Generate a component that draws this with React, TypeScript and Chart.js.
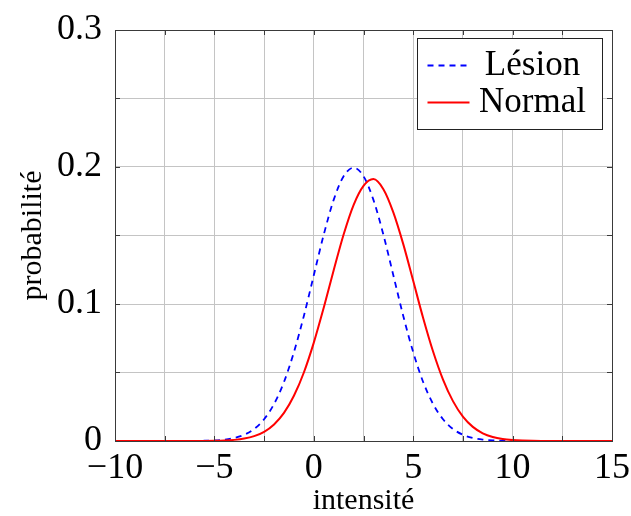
import React, { useEffect, useRef } from "react";
import { Chart, registerables } from "chart.js";

Chart.register(...registerables);

const xValues = [
  -10, -9.5, -9, -8.5, -8, -7.5, -7, -6.5, -6, -5.5, -5, -4.5, -4, -3.5, -3, -2.5, -2,
  -1.5, -1, -0.5, 0, 0.5, 1, 1.5, 2, 2.5, 3, 3.5, 4, 4.5, 5, 5.5, 6, 6.5, 7, 7.5, 8,
  8.5, 9, 9.5, 10, 10.5, 11, 11.5, 12, 12.5, 13, 13.5, 14, 14.5, 15,
];

const lesion = [
  0, 0, 0, 0, 0, 0, 0, 0, 0.00007, 0.00018, 0.00044, 0.00101, 0.00222, 0.00455, 0.00876,
  0.0159, 0.027, 0.0431, 0.0648, 0.0913, 0.121, 0.1506, 0.176, 0.1933, 0.1995, 0.1933,
  0.176, 0.1506, 0.121, 0.0913, 0.0648, 0.0431, 0.027, 0.0159, 0.00876, 0.00455, 0.00222,
  0.00101, 0.00044, 0.00018, 0.00007, 0, 0, 0, 0, 0, 0, 0, 0, 0, 0,
];

const normal = [
  0, 0, 0, 0, 0, 0, 0, 0, 0.00002, 0.00006, 0.00015, 0.00036, 0.00082, 0.00175, 0.00353,
  0.00671, 0.0121, 0.0205, 0.033, 0.05, 0.0718, 0.0973, 0.1246, 0.1507, 0.1722, 0.1862,
  0.1912, 0.1838, 0.1669, 0.1437, 0.1169, 0.0898, 0.0653, 0.0448, 0.0291, 0.0178, 0.0103,
  0.00564, 0.00292, 0.00142, 0.00066, 0.00029, 0.00012, 0.00005, 0, 0, 0, 0, 0, 0, 0,
];

const xLabeledTicks = [-10, -5, 0, 5, 10, 15];
const yLabeledTicks = [0, 0.1, 0.2, 0.3];

const seriesNames = ["Lésion", "Normal"];
const xTitle = "intensité";
const yTitle = "probabilité";

const FONT = "'Liberation Serif', 'Times New Roman', serif";

const fmtNum = (v: number) => {
  const r = Math.round(v * 1000) / 1000;
  return String(r).replace("-", "\u2212");
};

const zeroPadding = (scale: any) => {
  scale.paddingTop = 0;
  scale.paddingBottom = 0;
  scale.paddingLeft = 0;
  scale.paddingRight = 0;
};

const framePlugin = {
  id: "frame",
  afterDatasetsDraw(chart: any) {
    const { ctx, chartArea } = chart;
    const { left, right, top, bottom } = chartArea;
    const xs = chart.scales.x;
    const ys = chart.scales.y;
    ctx.save();
    ctx.strokeStyle = "#3a3a3a";
    ctx.lineWidth = 1;
    ctx.beginPath();
    for (let v = -10; v <= 15.001; v += 2.5) {
      const px = Math.round(xs.getPixelForValue(v)) + 0.5;
      ctx.moveTo(px, bottom);
      ctx.lineTo(px, bottom - 5);
      ctx.moveTo(px, top);
      ctx.lineTo(px, top + 5);
    }
    for (let v = 0; v <= 0.3001; v += 0.05) {
      const py = Math.round(ys.getPixelForValue(v)) + 0.5;
      ctx.moveTo(left, py);
      ctx.lineTo(left + 5, py);
      ctx.moveTo(right, py);
      ctx.lineTo(right - 5, py);
    }
    ctx.stroke();
    ctx.strokeRect(Math.round(left) + 0.5, Math.round(top) + 0.5, Math.round(right - left), Math.round(bottom - top));
    ctx.restore();
  },
};

const legendPlugin = {
  id: "boxLegend",
  afterDraw(chart: any) {
    const { ctx, chartArea } = chart;
    const bw = 185;
    const bh = 91;
    const bx = Math.round(chartArea.right - 10 - bw) + 0.5;
    const by = Math.round(chartArea.top + 8) + 0.5;
    ctx.save();
    ctx.fillStyle = "#ffffff";
    ctx.fillRect(bx, by, bw, bh);
    ctx.strokeStyle = "#222";
    ctx.lineWidth = 1;
    ctx.strokeRect(bx, by, bw, bh);
    const ds = chart.data.datasets;
    const entries = [ds[1], ds[0]];
    entries.forEach((d: any, i: number) => {
      const cy = by + 27 + i * 37;
      ctx.beginPath();
      ctx.strokeStyle = d.borderColor;
      ctx.lineWidth = d.borderWidth;
      ctx.setLineDash(d.borderDash || []);
      ctx.moveTo(bx + 10, cy);
      ctx.lineTo(bx + 52, cy);
      ctx.stroke();
      ctx.setLineDash([]);
      ctx.fillStyle = "#000";
      ctx.font = `35px ${FONT}`;
      ctx.textAlign = "center";
      ctx.textBaseline = "middle";
      ctx.fillText(d.label, bx + 115, cy);
    });
    ctx.restore();
  },
};

export default function App() {
  const ref = useRef<HTMLCanvasElement | null>(null);

  useEffect(() => {
    document.body.style.margin = "0";
    const canvas = ref.current;
    if (!canvas) return;
    const chart = new Chart(canvas, {
      type: "line",
      data: {
        datasets: [
          {
            label: seriesNames[1],
            data: xValues.map((x, i) => ({ x, y: normal[i] })),
            borderColor: "#ff0000",
            borderWidth: 2,
            pointRadius: 0,
            cubicInterpolationMode: "monotone",
            fill: false,
          },
          {
            label: seriesNames[0],
            data: xValues.map((x, i) => ({ x, y: lesion[i] })),
            borderColor: "#0000ff",
            borderWidth: 1.8,
            borderDash: [6, 5],
            pointRadius: 0,
            cubicInterpolationMode: "monotone",
            fill: false,
          },
        ],
      },
      options: {
        responsive: false,
        animation: false,
        devicePixelRatio: 1,
        layout: { padding: { top: 30, right: 19, left: 0, bottom: 0 } },
        plugins: { legend: { display: false }, tooltip: { enabled: false } },
        scales: {
          x: {
            type: "linear",
            min: -10,
            max: 15,
            afterFit(scale: any) {
              scale.height = 75;
              zeroPadding(scale);
            },
            afterBuildTicks(scale: any) {
              const t = [];
              for (let v = -10; v <= 15.001; v += 2.5) t.push({ value: v });
              scale.ticks = t;
            },
            ticks: {
              autoSkip: false,
              maxRotation: 0,
              padding: 6,
              color: "#000",
              font: { family: FONT, size: 36 },
              callback: (v: any) =>
                xLabeledTicks.some((t) => Math.abs(t - v) < 1e-6) ? fmtNum(v) : "",
            },
            grid: { color: "#c4c4c4", lineWidth: 1, drawTicks: false },
            border: { display: false },
            title: {
              display: true,
              text: xTitle,
              color: "#000",
              font: { family: FONT, size: 30, lineHeight: 1 },
              padding: { top: 0, bottom: 0 },
            },
          },
          y: {
            type: "linear",
            min: 0,
            max: 0.3,
            afterFit(scale: any) {
              scale.width = 115;
              zeroPadding(scale);
            },
            afterBuildTicks(scale: any) {
              const t = [];
              for (let i = 0; i <= 6; i++) t.push({ value: Math.round(i * 0.05 * 100) / 100 });
              scale.ticks = t;
            },
            ticks: {
              autoSkip: false,
              padding: 13,
              color: "#000",
              font: { family: FONT, size: 36 },
              callback: (v: any) =>
                yLabeledTicks.some((t) => Math.abs(t - v) < 1e-6) ? fmtNum(v) : "",
            },
            grid: { color: "#c4c4c4", lineWidth: 1, drawTicks: false },
            border: { display: false },
            title: {
              display: true,
              text: yTitle,
              color: "#000",
              font: { family: FONT, size: 30, lineHeight: 1.2 },
              padding: { top: 15, bottom: 0 },
            },
          },
        },
      },
      plugins: [framePlugin, legendPlugin],
    });
    return () => chart.destroy();
  }, []);

  return (
    <div style={{ width: 631, height: 516 }}>
      <canvas ref={ref} width={631} height={516} style={{ display: "block" }} />
    </div>
  );
}
